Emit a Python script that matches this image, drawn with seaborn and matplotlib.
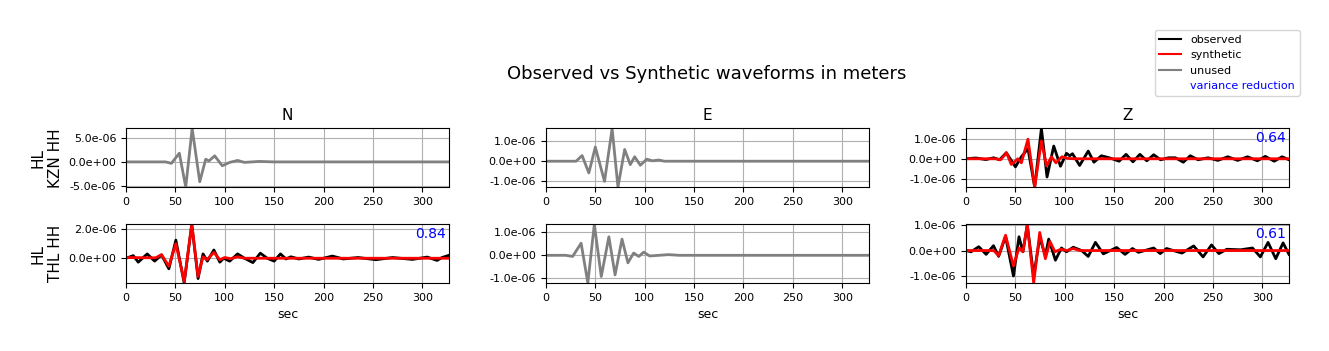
import matplotlib
matplotlib.use("Agg")
import matplotlib.pyplot as plt
from matplotlib.lines import Line2D
from matplotlib.ticker import MultipleLocator, FormatStrFormatter
import seaborn as sns

T_END = 327

# ---- KZN HH, N (unused) ----
kzn_n_t = [0, 40, 46, 54, 60.5, 67, 74.7, 80.7, 84, 89.8, 97.5, 105, 113, 120, 135, 150, T_END]
kzn_n_u = [0, 0, -0.3e-6, 1.8e-6, -5.2e-6, 6.9e-6, -4.1e-6, 0.55e-6, 0.2e-6, 1.25e-6, -0.8e-6, -0.1e-6, 0.3e-6, -0.1e-6, 0.1e-6, 0, 0]

# ---- KZN HH, E (unused) ----
kzn_e_t = [0, 30.5, 36.6, 43.4, 50, 59.3, 67, 72.9, 79.7, 85.4, 89.8, 95.6, 102, 108, 114, 120, T_END]
kzn_e_u = [0, 0, 0.28e-6, -0.58e-6, 0.7e-6, -1.0e-6, 1.62e-6, -1.28e-6, 0.58e-6, -0.17e-6, 0.22e-6, -0.2e-6, 0.1e-6, 0.02e-6, 0.06e-6, 0, 0]

# ---- KZN HH, Z ----
kzn_z_obs_t = [0, 10, 20, 28, 34, 40.7, 50, 56, 62.7, 69.5, 76.3, 82, 88.8, 95.6, 101.7, 105, 107.8, 115,
               123.7, 129.5, 137, 145, 155, 162, 169, 176, 183, 190, 197, 205, 212, 220, 227, 235, 245,
               255, 265, 275, 285, 295, 303, 312, 320, T_END]
kzn_z_obs = [0, 0.04e-6, -0.04e-6, 0.05e-6, -0.05e-6, 0.3e-6, -0.4e-6, 0.1e-6, 0.5e-6, -1.4e-6, 1.5e-6, -0.9e-6,
             0.63e-6, -0.37e-6, 0.27e-6, 0.15e-6, 0.25e-6, -0.33e-6, 0.38e-6, -0.17e-6, 0.15e-6, 0.05e-6,
             -0.12e-6, 0.22e-6, -0.15e-6, 0.22e-6, -0.1e-6, 0.2e-6, -0.05e-6, 0.05e-6, 0.05e-6, -0.17e-6,
             0.15e-6, -0.05e-6, 0.05e-6, -0.08e-6, 0.1e-6, -0.08e-6, 0.1e-6, -0.1e-6, 0.12e-6, -0.12e-6,
             0.1e-6, -0.05e-6]
kzn_z_syn_t = [0, 30, 35, 41, 45.8, 52.5, 56, 62.7, 69.5, 76.3, 81.5, 86.5, 91, 97, 103, 110, T_END]
kzn_z_syn = [0, 0, -0.05e-6, 0.3e-6, -0.28e-6, 0.0, -0.2e-6, 0.97e-6, -1.4e-6, 0.88e-6, -0.35e-6, 0.1e-6,
             -0.2e-6, 0.1e-6, 0.02e-6, 0, 0]

# ---- THL HH, N ----
thl_n_obs_t = [0, 7.4, 12.4, 21.5, 29, 36, 43.4, 50.5, 58.9, 66.6, 73, 78, 82.4, 89, 95, 99, 105, 113,
               120, 128.5, 136, 143, 150, 156.4, 162, 167, 175, 185, 195, 209, 220, 235, 253, 270, 290,
               305, 315, 320, T_END]
thl_n_obs = [0, 0.18e-6, -0.27e-6, 0.3e-6, -0.2e-6, 0.23e-6, -0.73e-6, 1.25e-6, -1.7e-6, 2.34e-6, -1.4e-6,
             0.3e-6, -0.2e-6, 0.57e-6, -0.27e-6, 0, -0.2e-6, 0.3e-6, 0, -0.3e-6, 0.35e-6, 0, -0.2e-6, 0.3e-6,
             -0.05e-6, 0.1e-6, -0.05e-6, 0.08e-6, -0.08e-6, 0.15e-6, -0.05e-6, 0.05e-6, -0.1e-6, 0.05e-6,
             -0.08e-6, 0.08e-6, -0.15e-6, 0.05e-6, 0.2e-6]
thl_n_syn_t = [0, 30, 36, 43.4, 50.5, 59, 66.6, 73, 78, 82, 89, 95, 100, 106, 113, 120, T_END]
thl_n_syn = [0.05e-6, 0.03e-6, 0.25e-6, -0.55e-6, 1.0e-6, -1.6e-6, 2.34e-6, -1.25e-6, 0.1e-6, -0.1e-6,
             0.4e-6, -0.1e-6, 0.05e-6, -0.03e-6, 0.1e-6, 0, 0]

# ---- THL HH, E (unused) ----
thl_e_t = [0, 20, 27, 35.6, 42.4, 49, 56, 63.7, 70, 77, 83, 88.8, 94, 99, 105, 124, 135, T_END]
thl_e_u = [0, 0, -0.05e-6, 0.53e-6, -1.21e-6, 1.36e-6, -0.93e-6, 0.81e-6, -0.86e-6, 0.71e-6, -0.33e-6,
           0.1e-6, -0.05e-6, 0.14e-6, -0.03e-6, 0.03e-6, 0, 0]

# ---- THL HH, Z ----
thl_z_obs_t = [0, 5, 12.9, 20.3, 27.8, 33, 40, 48, 53.6, 57.6, 62, 68.5, 74.6, 80.3, 83.7, 90.5, 96.6,
               101.7, 108.5, 117, 123.7, 131, 139, 152.5, 161, 168.5, 174.6, 190, 196.6, 203, 218.6,
               230.5, 240, 248.5, 256, 264, 278, 290, 298, 305.8, 313.6, 321, T_END]
thl_z_obs = [0, -0.05e-6, 0.15e-6, -0.15e-6, 0.19e-6, -0.23e-6, 0.55e-6, -1.0e-6, 0.54e-6, -0.05e-6,
             1.0e-6, -1.0e-6, 0.5e-6, -0.2e-6, 0.45e-6, -0.38e-6, 0.1e-6, -0.05e-6, 0.13e-6, 0, -0.23e-6,
             0.32e-6, -0.13e-6, 0.12e-6, -0.15e-6, 0.08e-6, -0.07e-6, 0.1e-6, -0.12e-6, 0.08e-6, -0.1e-6,
             0.18e-6, -0.25e-6, 0.22e-6, -0.12e-6, 0.05e-6, 0.03e-6, 0.1e-6, -0.25e-6, 0.32e-6, -0.32e-6,
             0.3e-6, -0.15e-6]
thl_z_syn_t = [0, 28, 33, 40, 48, 53.6, 57.6, 62, 68.5, 74.6, 80.3, 85, 90, 96, 102, 108.5, 115, T_END]
thl_z_syn = [0, 0, -0.2e-6, 0.6e-6, -0.6e-6, 0.1e-6, -0.05e-6, 1.03e-6, -1.27e-6, 0.71e-6, -0.32e-6,
             0.35e-6, -0.05e-6, 0.05e-6, 0, 0.08e-6, 0, 0]

stations = ["HL\nKZN HH", "HL\nTHL HH"]
components = ["N", "E", "Z"]
var_red = {(0, 2): "0.64", (1, 0): "0.84", (1, 2): "0.61"}

panels = {
    (0, 0): ("unused", kzn_n_t, kzn_n_u),
    (0, 1): ("unused", kzn_e_t, kzn_e_u),
    (0, 2): ("used", kzn_z_obs_t, kzn_z_obs, kzn_z_syn_t, kzn_z_syn),
    (1, 0): ("used", thl_n_obs_t, thl_n_obs, thl_n_syn_t, thl_n_syn),
    (1, 1): ("unused", thl_e_t, thl_e_u),
    (1, 2): ("used", thl_z_obs_t, thl_z_obs, thl_z_syn_t, thl_z_syn),
}
ylims = {
    (0, 0): (-5.2e-6, 6.9e-6), (0, 1): (-1.28e-6, 1.62e-6), (0, 2): (-1.4e-6, 1.5e-6),
    (1, 0): (-1.7e-6, 2.34e-6), (1, 1): (-1.21e-6, 1.36e-6), (1, 2): (-1.27e-6, 1.03e-6),
}
ysteps = {(0, 0): 5e-6, (0, 1): 1e-6, (0, 2): 1e-6, (1, 0): 2e-6, (1, 1): 1e-6, (1, 2): 1e-6}

fig = plt.figure(figsize=(13.29, 3.51), dpi=100)
lefts = [0.0948, 0.4108, 0.7269]
bottoms = [0.467, 0.194]
W, H = 0.243, 0.167

for r in range(2):
    for c in range(3):
        ax = fig.add_axes([lefts[c], bottoms[r], W, H])
        p = panels[(r, c)]
        if p[0] == "unused":
            sns.lineplot(x=p[1], y=p[2], ax=ax, color="gray", lw=2)
        else:
            sns.lineplot(x=p[1], y=p[2], ax=ax, color="black", lw=2)
            sns.lineplot(x=p[3], y=p[4], ax=ax, color="red", lw=2)
        ax.set_xlim(0, T_END)
        ax.set_ylim(*ylims[(r, c)])
        ax.xaxis.set_major_locator(MultipleLocator(50))
        ax.yaxis.set_major_locator(MultipleLocator(ysteps[(r, c)]))
        ax.yaxis.set_major_formatter(FormatStrFormatter("%.1e"))
        ax.tick_params(labelsize=8)
        ax.grid(True)
        if r == 0:
            ax.set_title(components[c], fontsize=11)
        if r == 1:
            ax.set_xlabel("sec", fontsize=9)
        if c == 0:
            ax.set_ylabel(stations[r], fontsize=11)
        if (r, c) in var_red:
            ax.text(0.99, 0.95, var_red[(r, c)], transform=ax.transAxes, ha="right", va="top",
                    color="blue", fontsize=10)

fig.suptitle("Observed vs Synthetic waveforms in meters", fontsize=13, x=0.532, y=0.815)

handles = [Line2D([], [], color="black"), Line2D([], [], color="red"), Line2D([], [], color="gray"),
           Line2D([], [], color="none")]
leg = fig.legend(handles, ["observed", "synthetic", "unused", "variance reduction"],
                 loc="upper right", bbox_to_anchor=(0.982, 0.93), fontsize=8)
leg.get_texts()[3].set_color("blue")

fig.savefig("out.png", dpi=100)
